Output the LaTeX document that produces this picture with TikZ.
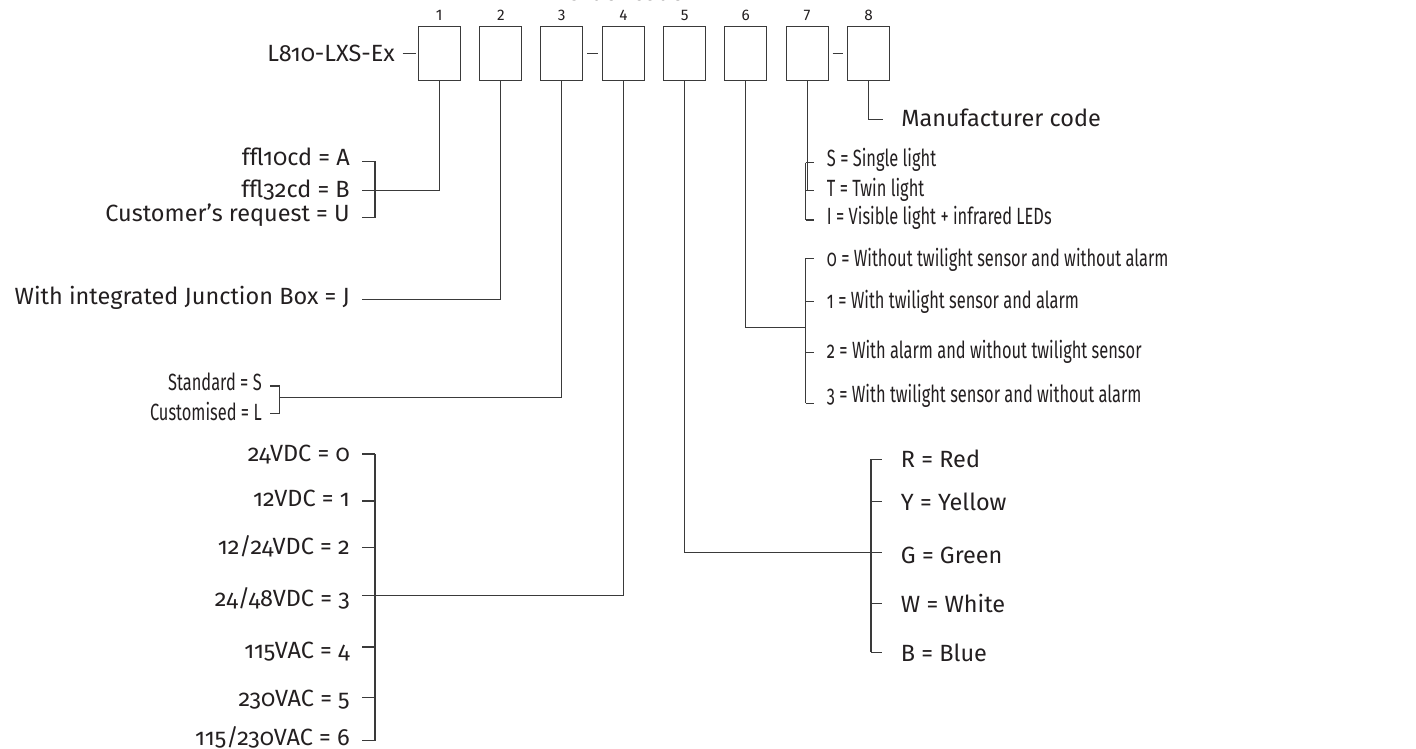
\documentclass[tikz,border=0pt]{standalone}
\usepackage{fontspec}
\setmainfont{Fira Sans}[Numbers=OldStyle]
\newfontfamily\condfont{Fira Sans}[Numbers=OldStyle,FakeStretch=0.70]
\newfontfamily\numfont{Fira Sans}[Numbers=Lining]
\definecolor{txt}{HTML}{231F20}
\definecolor{lc}{HTML}{3A3A3A}
\tikzset{
  lbl/.style={font=\fontsize{17.6}{20}\selectfont, text=txt, inner sep=0pt},
  clbl/.style={font=\condfont\fontsize{17.6}{20}\selectfont, text=txt, inner sep=0pt},
  num/.style={font=\numfont\fontsize{11.5}{13}\selectfont, text=txt, inner sep=0pt, anchor=base},
  codebox/.style={draw=lc, line width=0.9pt, minimum width=31.5pt, minimum height=40.5pt, inner sep=0pt},
  conn/.style={draw=lc, line width=0.9pt},
}
\begin{document}
\begin{tikzpicture}[x=0.75pt,y=-0.75pt]
\useasboundingbox (0,0) rectangle (1416,749);
% title (cut off by the top edge)
\node[lbl, anchor=base] (title) at (625,0.8) {Order code};
% boxes and numbers
\foreach \i/\x in {1/439.2,2/500.8,3/561.8,4/623.5,5/684.7,6/745.8,7/807.1,8/868.5}{
  \node[codebox] (b\i) at (\x,53.7) {};
  \node[num] (n\i) at (\x,20.7) {\i};
}
\node[lbl, anchor=base east] (lxs) at (395,61.7) {L810-LXS-Ex};
\draw[conn] (b1.west) ++(-15,0) coordinate (d0) -- ([xshift=-1.5pt]b1.west);
\draw[conn, shorten <=3pt, shorten >=3pt] (b3.east) -- (b4.west);
\draw[conn, shorten <=3pt, shorten >=3pt] (b7.east) -- (b8.west);

% ---- group 1 (box 1)
\node[lbl, anchor=base east] (a1) at (350,165) {ffl10cd = A};
\node[lbl, anchor=base east] (a2) at (350,197.5) {ffl32cd = B};
\node[lbl, anchor=base east] (a3) at (350,221) {Customer’s request = U};
\coordinate (a1t) at (362,161.7); \coordinate (a1b) at (375,161.7);
\coordinate (a2t) at (362,190.7); \coordinate (a2b) at (375,190.7);
\coordinate (a3t) at (362,217.3); \coordinate (a3b) at (375,217.3);
\draw[conn] (a1t) -- (a1b) -- (a3b) -- (a3t);
\draw[conn] (a2t) -- (a2b);
\draw[conn] (b1.south) |- (a2b);

% ---- group 2 (box 2)
\node[lbl, anchor=base east] (j1) at (350,304) {With integrated Junction Box = J};
\coordinate (j1t) at (362,299.3);
\draw[conn] (b2.south) |- (j1t);

% ---- group 3 (box 3)
\node[clbl, anchor=base east] (s1) at (262,390.7) {Standard = S};
\node[clbl, anchor=base east] (s2) at (262,420.7) {Customised = L};
\coordinate (s1t) at (270,386); \coordinate (s1b) at (279.5,386);
\coordinate (s2t) at (270,413.3); \coordinate (s2b) at (279.5,413.3);
\coordinate (s0) at (279.5,397.3);
\draw[conn] (s1t) -- (s1b) -- (s2b) -- (s2t);
\draw[conn] (b3.south) |- (s0);

% ---- group 4 (box 4)
\foreach \k/\y/\yb/\t in {0/454/461.7/{24VDC = 0}, 1/501/506.7/{12VDC = 1}, 2/547.3/554.3/{12/24VDC = 2},
  3/595.7/606.7/{24/48VDC = 3}, 4/647/658.3/{115VAC = 4}, 5/697.7/706.7/{230VAC = 5}, 6/740.7/745/{115/230VAC = 6}}{
  \node[lbl, anchor=base east] (v\k) at (350,\yb) {\t};
  \coordinate (v\k t) at (362,\y);
  \coordinate (v\k b) at (375,\y);
  \draw[conn] (v\k t) -- (v\k b);
}
\draw[conn] (v0b) -- (v6b);
\draw[conn] (b4.south) |- (v3b);

% ---- group 5 (box 5)
\foreach \k/\y/\yb/\t in {0/459.3/467.7/{R = Red}, 1/501.7/510.7/{Y = Yellow}, 2/552.3/563.3/{G = Green},
  3/603.3/612.7/{W = White}, 4/652.3/661.7/{B = Blue}}{
  \node[lbl, anchor=base west] (c\k) at (900.7,\yb) {\t};
  \coordinate (c\k t) at (882.3,\y);
  \coordinate (c\k b) at (871,\y);
  \draw[conn] (c\k b) -- (c\k t);
}
\draw[conn] (c0b) -- (c4b);
\draw[conn] (b5.south) |- (c2b);

% ---- group 6 (box 6)
\foreach \k/\y/\yb/\t in {0/258.3/266.7/{0 = Without twilight sensor and without alarm},
  1/301.7/308.3/{1 = With twilight sensor and alarm},
  2/352.3/358.3/{2 = With alarm and without twilight sensor},
  3/403.3/402.7/{3 = With twilight sensor and without alarm}}{
  \node[clbl, anchor=base west] (w\k) at (826.7,\yb) {\t};
  \coordinate (w\k t) at (814,\y);
  \coordinate (w\k b) at (805.7,\y);
  \draw[conn] (w\k b) -- (w\k t);
}
\draw[conn] (w0b) -- (w3b);
\coordinate (w5) at (805.7,327.7);
\draw[conn] (b6.south) |- (w5);

% ---- group 7 (box 7)
\foreach \k/\y/\yb/\t in {0/162.7/166.7/{S = Single light}, 1/190.7/196.7/{T = Twin light},
  2/220/224/{I = Visible light + infrared LEDs}}{
  \node[clbl, anchor=base west] (l\k) at (826.7,\yb) {\t};
  \coordinate (l\k t) at (814,\y);
  \coordinate (l\k b) at (805.7,\y);
  \draw[conn] (l\k b) -- (l\k t);
}
\draw[conn] (l0b) -- (l2b);
\draw[conn] (b7.south) |- (l1b);

% ---- group 8 (box 8)
\node[lbl, anchor=base west] (m1) at (901,126.7) {Manufacturer code};
\coordinate (m1t) at (883.3,119.3);
\draw[conn] (b8.south) |- (m1t);
\end{tikzpicture}
\end{document}
